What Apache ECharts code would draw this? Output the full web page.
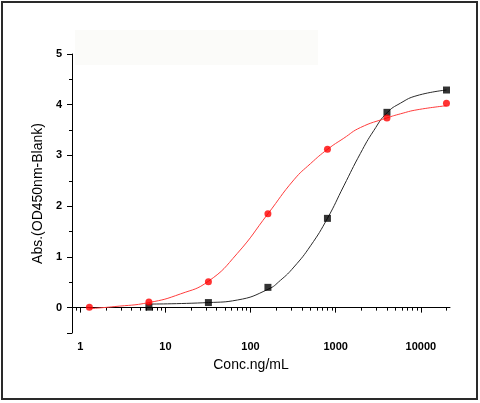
<!DOCTYPE html>
<html><head><meta charset="utf-8">
<script src="https://cdn.jsdelivr.net/npm/echarts@6/dist/echarts.min.js"></script>
<style>html,body{margin:0;padding:0;background:#fff}#c{width:480px;height:403px}</style>
</head><body><div id="c"></div>
<script>
// measured points
var conc = [1.28, 6.4, 32, 160, 800, 4000, 20000];
var blackPts = [null, 0.01, 0.10, 0.40, 1.76, 3.85, 4.29];
var redPts = [0.01, 0.11, 0.51, 1.85, 3.12, 3.74, 4.03];
// fitted curves
var blackCurveX = [6.4, 32, 70, 160, 225, 323, 507, 800, 1245, 1950, 2800, 4000, 5750, 9020, 20000];
var blackCurveY = [0.07, 0.10, 0.15, 0.36, 0.54, 0.80, 1.22, 1.76, 2.40, 3.04, 3.49, 3.84, 4.03, 4.18, 4.29];
var redCurveX = [1.28, 2.5, 6.4, 15, 32, 70, 160, 323, 507, 800, 1245, 1950, 4000, 5750, 9020, 20000];
var redCurveY = [-0.02, 0.02, 0.10, 0.27, 0.52, 1.07, 1.85, 2.52, 2.84, 3.12, 3.34, 3.55, 3.74, 3.82, 3.90, 3.98];
// axes
var xMajorTicks = [1, 10, 100, 1000, 10000];
var xMinorTicks = [0.9, 2,3,4,5,6,7,8,9, 20,30,40,50,60,70,80,90, 200,300,400,500,600,700,800,900, 2000,3000,4000,5000,6000,7000,8000,9000, 20000];
var xTitle = 'Conc.ng/mL';
var yTitle = 'Abs.(OD450nm-Blank)';

function zip(a, b) { var r = []; for (var i = 0; i < a.length; i++) { if (b[i] != null) r.push([a[i], b[i]]); } return r; }

var chart = echarts.init(document.getElementById('c'));
var font = '"Liberation Sans", Arial, sans-serif';
var X = {type: 'log', logBase: 10, min: 0.8, max: 22000, gridIndex: 0};
chart.setOption({
  animation: false,
  graphic: [
    {type: 'rect', shape: {x: 75, y: 30, width: 243, height: 35}, style: {fill: '#fbfbf9'}, z: -10},
    {type: 'rect', shape: {x: 2, y: 2, width: 475, height: 397}, style: {fill: 'none', stroke: '#2a2a2a', lineWidth: 2}, z: 100}
  ],
  grid: {left: 72, right: 30, top: 54, bottom: 70, containLabel: false},
  xAxis: [
    Object.assign({}, X, {
      position: 'bottom',
      name: xTitle, nameLocation: 'middle', nameGap: 25,
      nameTextStyle: {fontFamily: font, fontSize: 14, color: '#000', padding: [0, 20, 0, 0]},
      axisLine: {show: true, lineStyle: {color: '#000', width: 1}},
      axisTick: {show: true, length: 5, inside: false, lineStyle: {color: '#000'}, customValues: xMajorTicks},
      axisLabel: {show: true, customValues: xMajorTicks, margin: 8, fontFamily: font, fontSize: 11, fontWeight: 'bold', color: '#000',
        formatter: function (v) { return String(Math.round(v)); }},
      splitLine: {show: false}, minorTick: {show: false}
    }),
    Object.assign({}, X, {
      position: 'bottom',
      axisLine: {show: false},
      axisTick: {show: true, length: 3, lineStyle: {color: '#000'}, customValues: xMinorTicks},
      axisLabel: {show: false}, splitLine: {show: false}
    })
  ],
  yAxis: [
    {
      type: 'value', min: -0.5, max: 5, interval: 0.5, position: 'left',
      name: yTitle, nameLocation: 'middle', nameGap: 25, nameRotate: 90,
      nameTextStyle: {fontFamily: font, fontSize: 14, color: '#000'},
      axisLine: {show: true, lineStyle: {color: '#000', width: 1}},
      axisTick: {show: true, length: 3, lineStyle: {color: '#000', width: 1}},
      axisLabel: {show: true, margin: 10, fontFamily: font, fontSize: 11, fontWeight: 'bold', color: '#000',
        formatter: function (v) { return Math.abs(v - Math.round(v)) < 1e-6 ? String(Math.round(v)) : ''; }},
      splitLine: {show: false}
    },
    {
      type: 'value', min: -0.5, max: 5, position: 'left',
      axisLine: {show: false},
      axisTick: {show: true, length: 5, lineStyle: {color: '#000', width: 1}},
      axisLabel: {show: false}, splitLine: {show: false}
    }
  ],
  series: [
    {type: 'line', data: zip(blackCurveX, blackCurveY), smooth: 0.5, showSymbol: false, symbol: 'none',
      lineStyle: {color: '#2b2b2b', width: 1}, silent: true, z: 2},
    {type: 'line', data: zip(redCurveX, redCurveY), smooth: 0.5, showSymbol: false, symbol: 'none',
      lineStyle: {color: '#ff3c3c', width: 1}, silent: true, z: 2},
    {type: 'scatter', data: zip(conc, blackPts), symbol: 'rect', symbolSize: 7,
      itemStyle: {color: '#000'}, z: 3},
    {type: 'scatter', data: zip(conc, redPts), symbol: 'circle', symbolSize: 7,
      itemStyle: {color: '#ff0000'}, z: 4}
  ]
});
</script>
</body></html>
